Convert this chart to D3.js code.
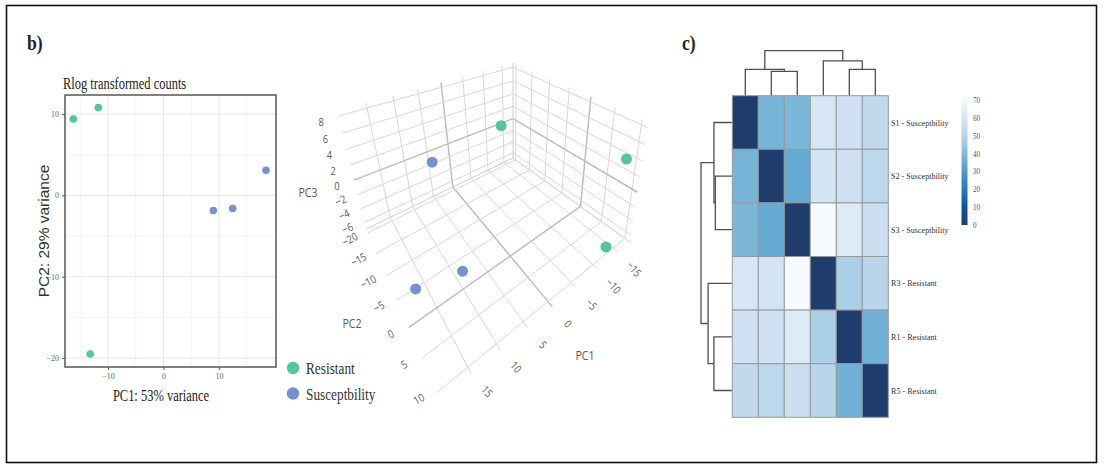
<!DOCTYPE html>
<html><head><meta charset="utf-8">
<script src="https://cdn.jsdelivr.net/npm/d3@7"></script>
<style>body{margin:0;background:#fff}svg{display:block}</style>
</head><body>
<svg id="c" width="1104" height="469"></svg>
<script>
// ---------------- DATA ----------------
const groups = ["Resistant", "Susceptbility"];
const groupColors = ["#56c59a", "#7891cb"];
const sampleGroup = ["Resistant","Resistant","Resistant","Susceptbility","Susceptbility","Susceptbility"];
// 2-D PCA (rlog)
const pc1 = [-16.25, -11.75, -13.2, 9.0, 12.5, 18.5];
const pc2 = [9.4, 10.8, -19.5, -1.85, -1.6, 3.1];
const pc1Ticks = [-10, 0, 10];
const pc2Ticks = [10, 0, -10, -20];
// 3-D PCA
const pc1_3d = [-13.2, -16.25, -11.75, 9.0, 12.5, 18.5];
const pc2_3d = [-19.5, 9.4, 10.8, -1.85, -4.0, 0.0];
const pc3_3d = [0.3, 4.2, -4.9, -6.2, 7.0, -3.1];
const ticks3dPC1 = [-15, -10, -5, 0, 5, 10, 15];
const ticks3dPC2 = [-20, -15, -10, -5, 0, 5, 10];
const ticks3dPC3 = [-6, -4, -2, 0, 2, 4, 6, 8];
// sample distance heatmap
const hmLabels = ["S1 - Susceptbility","S2 - Susceptbility","S3 - Susceptbility","R3 - Resistant","R1 - Resistant","R5 - Resistant"];
const hmValues = [
  [0, 38, 39, 60, 57, 53],
  [38, 0, 35, 59, 57, 52],
  [39, 35, 0, 72, 63, 56],
  [60, 59, 72, 0, 48, 51],
  [57, 57, 63, 48, 0, 37],
  [53, 52, 56, 51, 37, 0]
];
// hclust-style merges (negative = leaf index+1, positive = earlier merge)
const treeMerges = [[-2, -3], [-5, -6], [-1, 1], [-4, 2], [3, 4]];
const treeHeights = [53.5, 58, 58, 77, 100];
const legendTicks = [0, 10, 20, 30, 40, 50, 60, 70];
const bluesPalette = ["#1e3c6c","#0f5197","#2171b5","#4292c6","#6baed6","#9ecae1","#c6dbef","#deebf7","#f7fbff"];

// ---------------- HELPERS ----------------
const svg = d3.select("#c");
const SERIF = "'Liberation Serif','Times New Roman',serif";
const SANS = "'Liberation Sans',Arial,sans-serif";
const OPEN = "'Open Sans','Noto Sans',sans-serif";
function label(p, x, y, s, o = {}) {
  return p.append("text")
    .attr("transform", `translate(${x},${y}) rotate(${o.rotate || 0}) scale(${o.sx || 1},1)`)
    .attr("text-anchor", o.anchor || "start")
    .attr("dominant-baseline", o.baseline || "auto")
    .attr("font-family", o.family || SERIF)
    .attr("font-size", o.size || 12)
    .attr("font-weight", o.weight || "normal")
    .attr("fill", o.fill || "#222")
    .text(s);
}
const colorOf = d3.scaleOrdinal().domain(groups).range(groupColors);
const fmtMinus = t => (t < 0 ? "\u2212" + Math.abs(t) : String(t));

// frame
svg.append("rect").attr("x", 6.5).attr("y", 5.5).attr("width", 1090).attr("height", 457)
  .attr("fill", "none").attr("stroke", "#111").attr("stroke-width", 1.6);

label(svg, 27, 50, "b)", {size: 22, sx: 0.8, weight: "bold"});
label(svg, 682, 50, "c)", {size: 22, sx: 0.8, weight: "bold"});

// ---------------- 2-D PCA ----------------
const g2 = svg.append("g");
const x2 = d3.scaleLinear().domain([-17.75, 20.3]).range([65, 276]);
const y2 = d3.scaleLinear().domain([-21.1, 12.35]).range([367, 95]);
const minorX = [-15, -5, 5, 15], minorY = [5, -5, -15];
minorX.forEach(v => g2.append("line").attr("x1", x2(v)).attr("x2", x2(v)).attr("y1", 95).attr("y2", 367).attr("stroke", "#f3f3f3"));
minorY.forEach(v => g2.append("line").attr("y1", y2(v)).attr("y2", y2(v)).attr("x1", 65).attr("x2", 276).attr("stroke", "#f3f3f3"));
pc1Ticks.forEach(v => g2.append("line").attr("x1", x2(v)).attr("x2", x2(v)).attr("y1", 95).attr("y2", 367).attr("stroke", "#e6e6e6"));
pc2Ticks.forEach(v => g2.append("line").attr("y1", y2(v)).attr("y2", y2(v)).attr("x1", 65).attr("x2", 276).attr("stroke", "#e6e6e6"));
const ax = g2.append("g").attr("transform", "translate(0,367)")
  .call(d3.axisBottom(x2).tickValues(pc1Ticks).tickSize(3).tickPadding(3).tickFormat(d3.format("d")));
const ay = g2.append("g").attr("transform", "translate(65,0)")
  .call(d3.axisLeft(y2).tickValues(pc2Ticks).tickSize(3).tickPadding(3).tickFormat(d3.format("d")));
[ax, ay].forEach(a => {
  a.select(".domain").remove();
  a.selectAll("line").attr("stroke", "#555");
  a.selectAll("text").attr("font-family", SERIF).attr("font-size", 8).attr("fill", "#666");
});
g2.append("rect").attr("x", 65).attr("y", 95).attr("width", 211).attr("height", 272)
  .attr("fill", "none").attr("stroke", "#616161").attr("stroke-width", 1.6);
g2.selectAll("circle.pt").data(pc1.map((d, i) => i)).join("circle").attr("class", "pt")
  .attr("cx", i => x2(pc1[i])).attr("cy", i => y2(pc2[i])).attr("r", 3.8)
  .attr("fill", i => colorOf(sampleGroup[i]));
label(g2, 63, 89, "Rlog transformed counts", {size: 16, sx: 0.78});
label(g2, 161, 401, "PC1: 53% variance", {size: 16, sx: 0.78, anchor: "middle"});
label(g2, 49, 231, "PC2: 29% variance", {size: 15.5, family: SANS, anchor: "middle", rotate: -90, fill: "#333"});

// legend
groups.forEach((gname, i) => {
  g2.append("circle").attr("cx", 293).attr("cy", 368 + i * 25.5).attr("r", 6.2).attr("fill", groupColors[i]);
  label(g2, 306, 374 + i * 25.5, gname, {size: 17.5, sx: 0.76, fill: "#333"});
});

// ---------------- 3-D PCA ----------------
const g3 = svg.append("g");
const s1 = d3.scaleLinear().domain([-18, 20]).range([0, 1]);
const s2 = d3.scaleLinear().domain([-21, 11]).range([0, 1]);
const s3 = d3.scaleLinear().domain([-7, 8.6]).range([0, 1]);
// screen corners of the box keyed by normalised (u,v,w) and perspective ratios per axis
const box = {c000: [513, 158], c100: [366, 229], c010: [630, 242], c110: [440, 400],
             c001: [513, 63], c101: [337, 111], c011: [648, 122], c111: [446, 232]};
const persp = [1.3, 1.4, 1.15];
const warp = (x, r) => { const t = 1 - x; return 1 - t * r / (1 + t * (r - 1)); };
const lerp = (a, b, t) => [a[0] + (b[0] - a[0]) * t, a[1] + (b[1] - a[1]) * t];
function projN(u, v, w) {
  u = warp(u, persp[0]); v = warp(v, persp[1]); w = warp(w, persp[2]);
  const b0 = lerp(lerp(box.c000, box.c100, u), lerp(box.c010, box.c110, u), v);
  const b1 = lerp(lerp(box.c001, box.c101, u), lerp(box.c011, box.c111, u), v);
  return lerp(b0, b1, w);
}
const proj = (a, b, c) => projN(s1(a), s2(b), s3(c));
const line3 = d3.line();
function seg(p, q, col, wdt) {
  g3.append("path").attr("d", line3([p, q])).attr("stroke", col).attr("stroke-width", wdt).attr("fill", "none");
}
const GRID = "#d8d8d8", ZERO = "#bdbdbd";
const gc = t => (t === 0 ? ZERO : GRID), gw = t => (t === 0 ? 1.5 : 1);
// floor (w=0)
ticks3dPC1.forEach(t => seg(projN(s1(t), 0, 0), projN(s1(t), 1, 0), gc(t), gw(t)));
ticks3dPC2.forEach(t => seg(projN(0, s2(t), 0), projN(1, s2(t), 0), gc(t), gw(t)));
// back-left wall (v=0)
ticks3dPC1.forEach(t => seg(projN(s1(t), 0, 0), projN(s1(t), 0, 1), gc(t), gw(t)));
ticks3dPC3.forEach(t => seg(projN(0, 0, s3(t)), projN(1, 0, s3(t)), gc(t), gw(t)));
// back-right wall (u=0)
ticks3dPC2.forEach(t => seg(projN(0, s2(t), 0), projN(0, s2(t), 1), gc(t), gw(t)));
ticks3dPC3.forEach(t => seg(projN(0, 0, s3(t)), projN(0, 1, s3(t)), gc(t), gw(t)));
// box edges
seg(projN(0, 0, 0), projN(0, 0, 1), "#cdcdcd", 1);
seg(projN(1, 0, 0), projN(0, 0, 0), "#cdcdcd", 1);
seg(projN(0, 0, 0), projN(0, 1, 0), "#cdcdcd", 1);

// tick labels (centred on offset from the edge)
const tl = {size: 11, family: OPEN, fill: "#5a5a5a", anchor: "middle", baseline: "central", sx: 0.85};
ticks3dPC3.forEach(t => {
  const p = projN(1, 0, s3(t));
  label(g3, p[0] - 17, p[1] + 5.5, fmtMinus(t), {...tl, rotate: t < 0 ? -25 : 0});
});
ticks3dPC2.forEach(t => {
  const p = projN(1, s2(t), 0);
  label(g3, p[0] - 18, p[1] + 6, fmtMinus(t), {...tl, rotate: -28});
});
ticks3dPC1.forEach(t => {
  const p = projN(s1(t), 1, 0);
  label(g3, p[0] + 16, p[1] + 17, fmtMinus(t), {...tl, rotate: 48});
});
label(g3, 308, 192, "PC3", {...tl, size: 12.5});
label(g3, 352, 323, "PC2", {...tl, size: 12.5});
label(g3, 585, 355, "PC1", {...tl, size: 12.5});

g3.selectAll("circle.p3").data(pc1_3d.map((d, i) => i)).join("circle").attr("class", "p3")
  .attr("cx", i => proj(pc1_3d[i], pc2_3d[i], pc3_3d[i])[0])
  .attr("cy", i => proj(pc1_3d[i], pc2_3d[i], pc3_3d[i])[1])
  .attr("r", 5.5).attr("fill", i => colorOf(sampleGroup[i]));

// ---------------- HEATMAP ----------------
const gh = svg.append("g");
const hx = d3.scaleBand().domain(d3.range(6)).range([732.3, 888.3]);
const hy = d3.scaleBand().domain(d3.range(6)).range([95.7, 417.3]);
const hColor = d3.scaleLinear().domain(d3.range(9).map(i => i * 72 / 8)).range(bluesPalette);
hmValues.forEach((row, r) => row.forEach((v, c) => {
  gh.append("rect").attr("x", hx(c)).attr("y", hy(r)).attr("width", hx.bandwidth()).attr("height", hy.bandwidth())
    .attr("fill", hColor(v)).attr("stroke", "#959aa0").attr("stroke-width", 1);
}));
hmLabels.forEach((s, r) => label(gh, 891, hy(r) + hy.bandwidth() / 2 + 3, s, {size: 9, fill: "#333", sx: 0.9}));

// dendrograms
function layoutTree(merges, leafPos) {
  const pos = [], hts = [];
  const P = k => k < 0 ? leafPos(-k - 1) : pos[k - 1];
  const H = k => k < 0 ? 0 : hts[k - 1];
  const segs = [];
  merges.forEach((m, i) => {
    const h = treeHeights[i];
    segs.push({a: P(m[0]), ha: H(m[0]), b: P(m[1]), hb: H(m[1]), h});
    pos.push((P(m[0]) + P(m[1])) / 2); hts.push(h);
  });
  return segs;
}
const colH = d3.scaleLinear().domain([0, 100]).range([95.2, 50.7]);
layoutTree(treeMerges, i => hx(i) + hx.bandwidth() / 2).forEach(s => {
  gh.append("path").attr("d", d3.line()([[s.a, colH(s.ha)], [s.a, colH(s.h)], [s.b, colH(s.h)], [s.b, colH(s.hb)]]))
    .attr("fill", "none").attr("stroke", "#4f4f4f").attr("stroke-width", 1.3);
});
const rowH = d3.scaleLinear().domain([0, 100]).range([731.8, 701]);
layoutTree(treeMerges, i => hy(i) + hy.bandwidth() / 2).forEach(s => {
  gh.append("path").attr("d", d3.line()([[rowH(s.ha), s.a], [rowH(s.h), s.a], [rowH(s.h), s.b], [rowH(s.hb), s.b]]))
    .attr("fill", "none").attr("stroke", "#4f4f4f").attr("stroke-width", 1.3);
});

// colour legend
const ly = d3.scaleLinear().domain([0, 72]).range([225, 96.4]);
const defs = svg.append("defs");
const grad = defs.append("linearGradient").attr("id", "lg").attr("x1", 0).attr("y1", 1).attr("x2", 0).attr("y2", 0);
bluesPalette.forEach((c, i) => grad.append("stop").attr("offset", i / 8).attr("stop-color", c));
gh.append("rect").attr("x", 961.5).attr("y", ly(72)).attr("width", 6).attr("height", ly(0) - ly(72)).attr("fill", "url(#lg)");
legendTicks.forEach(t => label(gh, 973, ly(t) + 3, String(t), {size: 8, fill: "#555", sx: 0.9}));
</script>
</body></html>
